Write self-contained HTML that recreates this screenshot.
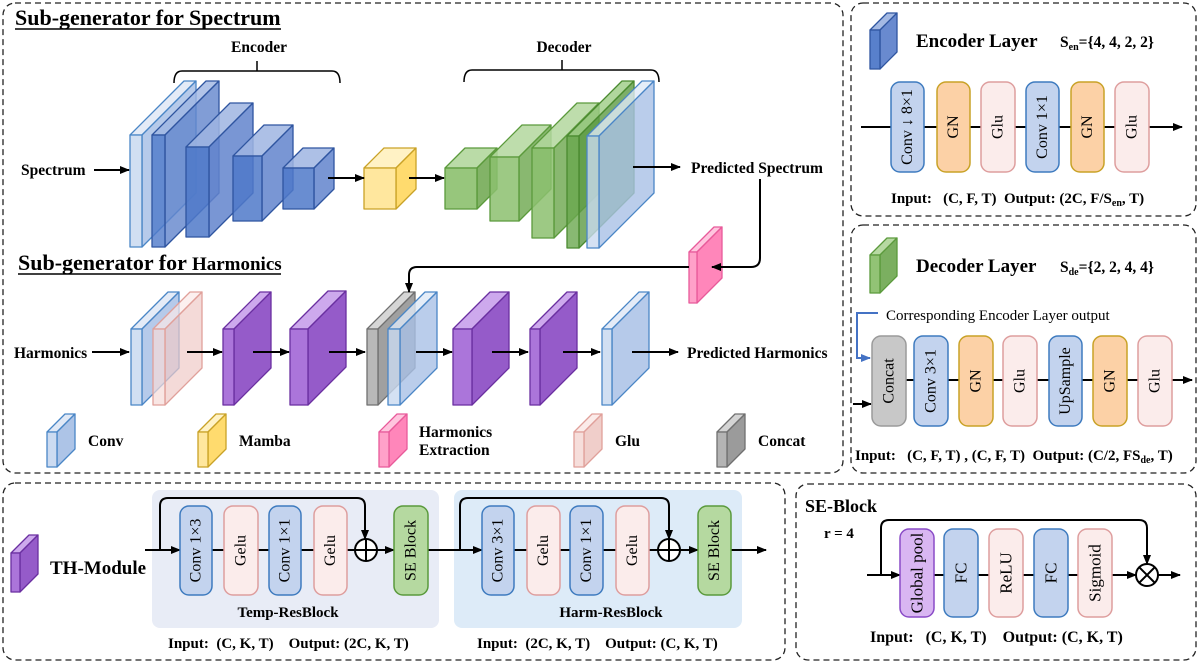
<!DOCTYPE html>
<html><head><meta charset="utf-8"><style>
html,body{margin:0;padding:0;background:#fff}
svg{display:block}
text{font-family:"Liberation Serif",serif;fill:#000;white-space:pre}
.b{font-weight:bold}
</style></head><body>
<svg id="s" width="1200" height="664" viewBox="0 0 1200 664" xmlns="http://www.w3.org/2000/svg">
<defs>
<marker id="ar" markerWidth="10" markerHeight="10" refX="9" refY="5" orient="auto" markerUnits="userSpaceOnUse"><path d="M0,1 L10,5 L0,9 z" fill="#000"/></marker>
<marker id="arb" markerWidth="10" markerHeight="10" refX="9" refY="5" orient="auto" markerUnits="userSpaceOnUse"><path d="M0,1 L10,5 L0,9 z" fill="#4472c4"/></marker>
</defs>
<g fill="none" stroke="#222" stroke-width="1.3" stroke-dasharray="6,4">
<rect x="3" y="3" width="840" height="470" rx="12"/>
<rect x="851" y="3" width="345" height="213" rx="12"/>
<rect x="851" y="225" width="345" height="248" rx="12"/>
<rect x="3" y="483" width="782" height="177" rx="12"/>
<rect x="796" y="484" width="400" height="176" rx="12"/>
</g>
<g id="slabs"></g>
<text x="15" y="25" class="b" font-size="22">Sub-generator for Spectrum</text>
<line x1="15" y1="29" x2="281" y2="29" stroke="#000" stroke-width="1.5"/>
<text x="18" y="270" class="b" font-size="22">Sub-generator for <tspan font-size="19">Harmonics</tspan></text>
<line x1="18" y1="274" x2="281" y2="274" stroke="#000" stroke-width="1.5"/>
<text x="259" y="52" class="b" font-size="15.5" text-anchor="middle">Encoder</text>
<text x="564" y="52" class="b" font-size="15.5" text-anchor="middle">Decoder</text>
<g fill="none" stroke="#000" stroke-width="1.5">
<path d="M174,83 Q174,71 182,71 L332,71 Q340,71 340,83 M257,71 V61"/>
<path d="M464,82 Q464,70 472,70 L651,70 Q659,70 659,82 M562,70 V60"/>
</g>
<text x="21" y="175" class="b" font-size="15.5">Spectrum</text>
<text x="691" y="173" class="b" font-size="15.5">Predicted Spectrum</text>
<text x="14" y="358" class="b" font-size="15.5">Harmonics</text>
<text x="687" y="358" class="b" font-size="15.5">Predicted Harmonics</text>
<g stroke="#000" stroke-width="2" fill="none" marker-end="url(#ar)">
<line x1="94" y1="170" x2="129" y2="170"/>
<line x1="328" y1="178" x2="364" y2="178"/>
<line x1="409" y1="178" x2="444" y2="178"/>
<line x1="633" y1="167" x2="680" y2="167"/>
<path d="M760,179 V258 Q760,267 751,267 L712,267"/>
<path d="M689,267 L417,267 Q409,267 409,275 L409,292"/>
<line x1="92" y1="352" x2="129" y2="352"/>
<line x1="187" y1="352" x2="222" y2="352"/>
<line x1="253" y1="352" x2="289" y2="352"/>
<line x1="329" y1="352" x2="365" y2="352"/>
<line x1="416" y1="352" x2="452" y2="352"/>
<line x1="492" y1="352" x2="528" y2="352"/>
<line x1="563" y1="352" x2="600" y2="352"/>
<line x1="632" y1="352" x2="678" y2="352"/>
</g>
<g font-size="15.5">
<text x="88" y="446" class="b">Conv</text>
<text x="239" y="446" class="b">Mamba</text>
<text x="419" y="437" class="b">Harmonics</text>
<text x="419" y="455" class="b">Extraction</text>
<text x="615" y="446" class="b">Glu</text>
<text x="758" y="446" class="b">Concat</text>
</g>

<text x="916" y="47" class="b" font-size="19">Encoder Layer</text>
<text x="1060" y="47" class="b" font-size="15.5">S<tspan font-size="10" dy="3">en</tspan><tspan dy="-3">={4, 4, 2, 2}</tspan></text>
<line x1="861" y1="127" x2="1182" y2="127" stroke="#000" stroke-width="2" marker-end="url(#ar)"/>
<g id="encb"></g>
<text x="891" y="203" class="b" font-size="15">Input:   (C, F, T)  Output: (2C, F/S<tspan font-size="10" dy="3">en</tspan><tspan dy="-3">, T)</tspan></text>

<text x="916" y="272" class="b" font-size="19">Decoder Layer</text>
<text x="1060" y="272" class="b" font-size="15.5">S<tspan font-size="10" dy="3">de</tspan><tspan dy="-3">={2, 2, 4, 4}</tspan></text>
<text x="886" y="320" font-size="15">Corresponding Encoder Layer output</text>
<path d="M878,313 H857 V358 H870" fill="none" stroke="#4472c4" stroke-width="2" marker-end="url(#arb)"/>
<line x1="906" y1="380" x2="1192" y2="380" stroke="#000" stroke-width="2" marker-end="url(#ar)"/>
<line x1="853" y1="404" x2="871" y2="404" stroke="#000" stroke-width="2" marker-end="url(#ar)"/>
<g id="decb"></g>
<text x="855" y="460" class="b" font-size="15">Input:   (C, F, T) , (C, F, T)  Output: (C/2, FS<tspan font-size="10" dy="3">de</tspan><tspan dy="-3">, T)</tspan></text>

<rect x="152" y="490" width="287" height="138" rx="8" fill="#e8ecf6"/>
<rect x="454" y="490" width="288" height="138" rx="8" fill="#ddebf8"/>
<text x="50" y="574" class="b" font-size="19">TH-Module</text>
<g stroke="#000" stroke-width="2" fill="none">
<line x1="145" y1="550" x2="180" y2="550" marker-end="url(#ar)"/>
<line x1="212" y1="550" x2="355" y2="550"/>
<line x1="377" y1="550" x2="394" y2="550" marker-end="url(#ar)"/>
<line x1="428" y1="550" x2="482" y2="550" marker-end="url(#ar)"/>
<line x1="514" y1="550" x2="658" y2="550"/>
<line x1="680" y1="550" x2="698" y2="550" marker-end="url(#ar)"/>
<line x1="731" y1="550" x2="766" y2="550" marker-end="url(#ar)"/>
<path d="M160,550 V506 Q160,498 168,498 H357 Q365,498 365,506 V539" marker-end="url(#ar)"/>
<path d="M460,550 V506 Q460,498 468,498 H661 Q669,498 669,506 V539" marker-end="url(#ar)"/>
<circle cx="366" cy="550" r="11" fill="#fff"/>
<path d="M355,550 H377 M366,539 V561"/>
<circle cx="669" cy="550" r="11" fill="#fff"/>
<path d="M658,550 H680 M669,539 V561"/>
</g>
<g id="thb"></g>
<text x="288" y="617" class="b" font-size="15" text-anchor="middle">Temp-ResBlock</text>
<text x="611" y="617" class="b" font-size="15" text-anchor="middle">Harm-ResBlock</text>
<text x="168" y="648" class="b" font-size="15">Input:  (C, K, T)    Output: (2C, K, T)</text>
<text x="477" y="648" class="b" font-size="15">Input:  (2C, K, T)    Output: (C, K, T)</text>

<text x="805" y="512" class="b" font-size="18">SE-Block</text>
<text x="824" y="538" class="b" font-size="15">r = 4</text>
<g stroke="#000" stroke-width="2" fill="none">
<line x1="867" y1="575" x2="900" y2="575" marker-end="url(#ar)"/>
<line x1="934" y1="575" x2="1112" y2="575"/>
<line x1="1112" y1="575" x2="1136" y2="575" marker-end="url(#ar)"/>
<path d="M881,575 V528 Q881,520 889,520 H1139 Q1147,520 1147,528 V564" marker-end="url(#ar)"/>
<line x1="1158" y1="575" x2="1180" y2="575" marker-end="url(#ar)"/>
<circle cx="1147" cy="575" r="11" fill="#fff"/>
<path d="M1139,567 L1155,583 M1155,567 L1139,583"/>
</g>
<g id="seb"></g>
<text x="870" y="642" class="b" font-size="16">Input:   (C, K, T)    Output: (C, K, T)</text>
</svg>
<script>
var NS="http://www.w3.org/2000/svg";
var C={
 el:["#c9d9f0","#dfe8f6","#a9c1e6","#4a86c6"],
 ed:["#4f79c9","#9fb5e2","#6184cc","#2f55a0"],
 g:["#8cc06e","#b3d79d","#74ab57","#5b9a3c"],
 gd:["#6aa84f","#9ccc84","#5d9a44","#4a8a30"],
 p:["#a66ed8","#caa4ec","#8f52c6","#6a2fa0"],
 k:["#b0b0b0","#d2d2d2","#969696","#707070"],
 hk:["#ff9cc6","#ffc2dc","#ff7fb6","#e85a9a"],
 gl:["#f6dcd9","#fbeae8","#efcbc7","#e0a09a"],
 y:["#ffe699","#fff1c2","#ffd966","#c9a227"]
};
var g=document.getElementById("slabs");
function mk(tag,at,par){var e=document.createElementNS(NS,tag);for(var k in at)e.setAttribute(k,at[k]);(par||g).appendChild(e);return e;}
function slab(x,y,w,h,d,c,op){
 var col=C[c];op=op||0.9;
 var pts=function(a){return a.map(function(p){return p.join(",")}).join(" ")};
 var st={stroke:col[3],"stroke-width":1.3,"stroke-linejoin":"round","fill-opacity":op};
 function P(a,f){var o={points:pts(a),fill:f};for(var k in st)o[k]=st[k];mk("polygon",o);}
 P([[x,y],[x+d,y-d],[x+w+d,y-d],[x+w,y]],col[1]);
 P([[x+w,y],[x+w+d,y-d],[x+w+d,y+h-d],[x+w,y+h]],col[2]);
 P([[x,y],[x+w,y],[x+w,y+h],[x,y+h]],col[0]);
}
slab(130,135,12,112,54,"el",0.85);
slab(152,135,13,112,54,"ed",0.8);
slab(186,147,23,90,44,"ed",0.85);
slab(233,156,29,65,31,"ed",0.85);
slab(283,168,31,41,20,"ed",0.85);
slab(364,168,32,41,20,"y",0.95);
slab(445,168,32,41,20,"g",0.9);
slab(490,157,29,64,32,"g",0.85);
slab(532,148,22,90,45,"g",0.85);
slab(567,136,12,112,55,"gd",0.8);
slab(587,136,12,112,55,"el",0.8);
slab(689,252,8,51,25,"hk",0.95);
slab(131,329,11,76,37,"el",0.85);
slab(153,329,12,76,37,"gl",0.7);
slab(223,329,11,76,37,"p",0.95);
slab(290,329,18,76,38,"p",0.95);
slab(367,329,11,76,37,"k",0.9);
slab(388,329,12,76,37,"el",0.8);
slab(453,329,19,76,37,"p",0.95);
slab(530,329,10,76,37,"p",0.95);
slab(602,329,10,76,37,"el",0.85);
slab(47,432,10,35,18,"el",0.95);
slab(198,432,10,35,18,"y",0.95);
slab(379,432,10,35,18,"hk",0.95);
slab(574,432,10,35,18,"gl",0.95);
slab(717,432,10,35,18,"k",0.95);
slab(870,30,10,39,17,"ed",0.95);
slab(870,255,10,38,17,"g",0.95);
slab(11,553,9,39,18,"p",0.95);
var B={b:["#c3d3ee","#3e7bbf"],o:["#fcd1a6","#c9a227"],r:["#fbeceb","#de9e9e"],k:["#c8c8c8","#9a9a9a"],g:["#b5d9a0","#5a9a3c"],p:["#d9b6f2","#8a4cc7"]};
function box(pid,x,y,w,h,c,t,fs){
 var p=document.getElementById(pid);
 mk("rect",{x:x,y:y,width:w,height:h,rx:9,fill:B[c][0],stroke:B[c][1],"stroke-width":1.5},p);
 var cx=x+w/2,cy=y+h/2;
 var tx=mk("text",{transform:"translate("+cx+","+cy+") rotate(-90)","text-anchor":"middle","dominant-baseline":"central","font-size":fs||15},p);
 tx.textContent=t;
}
var ey=82,eh=90;
box("encb",891,ey,33,eh,"b","Conv ↓ 8×1",16);
box("encb",937,ey,33,eh,"o","GN",16);
box("encb",981,ey,34,eh,"r","Glu",16);
box("encb",1026,ey,33,eh,"b","Conv 1×1",16);
box("encb",1071,ey,33,eh,"o","GN",16);
box("encb",1115,ey,34,eh,"r","Glu",16);
var dy=336,dh=90;
box("decb",872,dy,34,dh,"k","Concat",16);
box("decb",914,dy,34,dh,"b","Conv 3×1",16);
box("decb",959,dy,34,dh,"o","GN",16);
box("decb",1003,dy,34,dh,"r","Glu",16);
box("decb",1049,dy,33,dh,"b","UpSample",16);
box("decb",1093,dy,34,dh,"o","GN",16);
box("decb",1138,dy,34,dh,"r","Glu",16);
var ty=506,th=89;
box("thb",180,ty,32,th,"b","Conv 1×3",16);
box("thb",224,ty,34,th,"r","Gelu",16);
box("thb",269,ty,32,th,"b","Conv 1×1",16);
box("thb",314,ty,33,th,"r","Gelu",16);
box("thb",394,ty,34,th,"g","SE Block",16);
box("thb",482,ty,32,th,"b","Conv 3×1",16);
box("thb",527,ty,33,th,"r","Gelu",16);
box("thb",570,ty,33,th,"b","Conv 1×1",16);
box("thb",616,ty,33,th,"r","Gelu",16);
box("thb",698,ty,33,th,"g","SE Block",16);
var sy=529,sh=88;
box("seb",900,sy,34,sh,"p","Global pool",17);
box("seb",944,sy,34,sh,"b","FC",17);
box("seb",989,sy,34,sh,"r","ReLU",17);
box("seb",1034,sy,34,sh,"b","FC",17);
box("seb",1078,sy,34,sh,"r","Sigmoid",17);
</script>
</body></html>
